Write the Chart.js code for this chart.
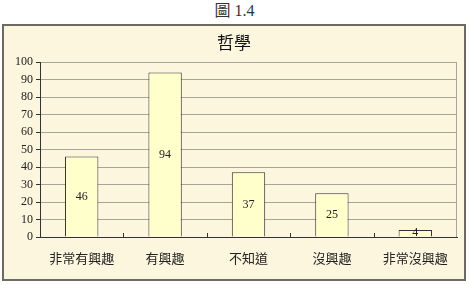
<!DOCTYPE html>
<html>
<head>
<meta charset="utf-8">
<script src="https://cdn.jsdelivr.net/npm/chart.js@4"></script>
<style>
  body { margin: 0; background: #fff; width: 469px; height: 285px; position: relative; overflow: hidden; }
  #fig { position: absolute; left: 0; top: 0; width: 469px; text-align: center; font: 16px "Liberation Serif", "Noto Sans CJK TC", serif; color: #333; line-height: 22px; }
  #box { position: absolute; left: 2px; top: 24px; width: 460px; height: 253px; border: 2px solid #6e6a62; background: #fcf6de; }
  #ttl { position: absolute; left: 0; top: 3px; width: 100%; text-align: center; font: 17px "Noto Sans CJK TC", sans-serif; color: #111; }
  #wrap { position: absolute; left: 0; top: 0; width: 460px; height: 253px; }
</style>
</head>
<body>
<div id="fig">圖 1.4</div>
<div id="box">
  <div id="wrap"><canvas id="myChart"></canvas></div>
  <div id="ttl">哲學</div>
</div>
<script>
var xValues = ["非常有興趣", "有興趣", "不知道", "沒興趣", "非常沒興趣"];
var yValues = [46, 94, 37, 25, 4];
var yTicks = [0, 10, 20, 30, 40, 50, 60, 70, 80, 90, 100];

// value labels in the middle of each bar, plus plot frame bits
var midLabels = {
  id: "midLabels",
  afterDatasetsDraw: function(chart) {
    var ctx = chart.ctx;
    var meta = chart.getDatasetMeta(0);
    var x = chart.scales.x, a = chart.chartArea;
    ctx.save();
    // right edge of plot
    ctx.strokeStyle = "#a8a49a";
    ctx.lineWidth = 1;
    ctx.beginPath();
    ctx.moveTo(Math.round(a.right) - 0.5, a.top);
    ctx.lineTo(Math.round(a.right) - 0.5, a.bottom);
    ctx.stroke();
    ctx.font = "12px 'Liberation Serif', serif";
    ctx.fillStyle = "#222";
    ctx.textAlign = "center";
    ctx.textBaseline = "middle";
    meta.data.forEach(function(bar, i) {
      ctx.fillText(String(yValues[i]), bar.x, (bar.y + bar.base) / 2);
    });
    // small tick marks between categories, pointing up
    ctx.strokeStyle = "#333";
    for (var i = 1; i < xValues.length; i++) {
      var px = Math.round(x.getPixelForValue(i - 0.5)) + 0.5;
      ctx.beginPath();
      ctx.moveTo(px, a.bottom);
      ctx.lineTo(px, a.bottom - 4);
      ctx.stroke();
    }
    ctx.restore();
  }
};

new Chart("myChart", {
  type: "bar",
  data: {
    labels: xValues,
    datasets: [{
      data: yValues,
      backgroundColor: "#ffffcc",
      borderColor: "#333",
      borderWidth: 1,
      categoryPercentage: 0.8,
      barPercentage: 0.5
    }]
  },
  options: {
    responsive: true,
    maintainAspectRatio: false,
    animation: false,
    layout: { padding: { left: 0, right: 7, top: 36, bottom: 0 } },
    plugins: { legend: { display: false }, tooltip: { enabled: false } },
    scales: {
      x: {
        grid: { display: false },
        border: { color: "#333", width: 1 },
        ticks: { color: "#222", font: { family: "'Noto Sans CJK TC', sans-serif", size: 13 }, padding: 5, maxRotation: 0 },
        afterFit: function(s) { s.height = 42; }
      },
      y: {
        min: 0,
        max: 100,
        afterBuildTicks: function(s) { s.ticks = yTicks.map(function(v) { return { value: v }; }); },
        grid: { color: "#a8a49a", tickColor: "#333", tickLength: 4 },
        border: { color: "#333", width: 1 },
        ticks: { color: "#222", font: { family: "'Liberation Serif', serif", size: 12 }, padding: 3 },
        afterFit: function(s) { s.width = 36; }
      }
    }
  },
  plugins: [midLabels]
});
</script>
</body>
</html>
